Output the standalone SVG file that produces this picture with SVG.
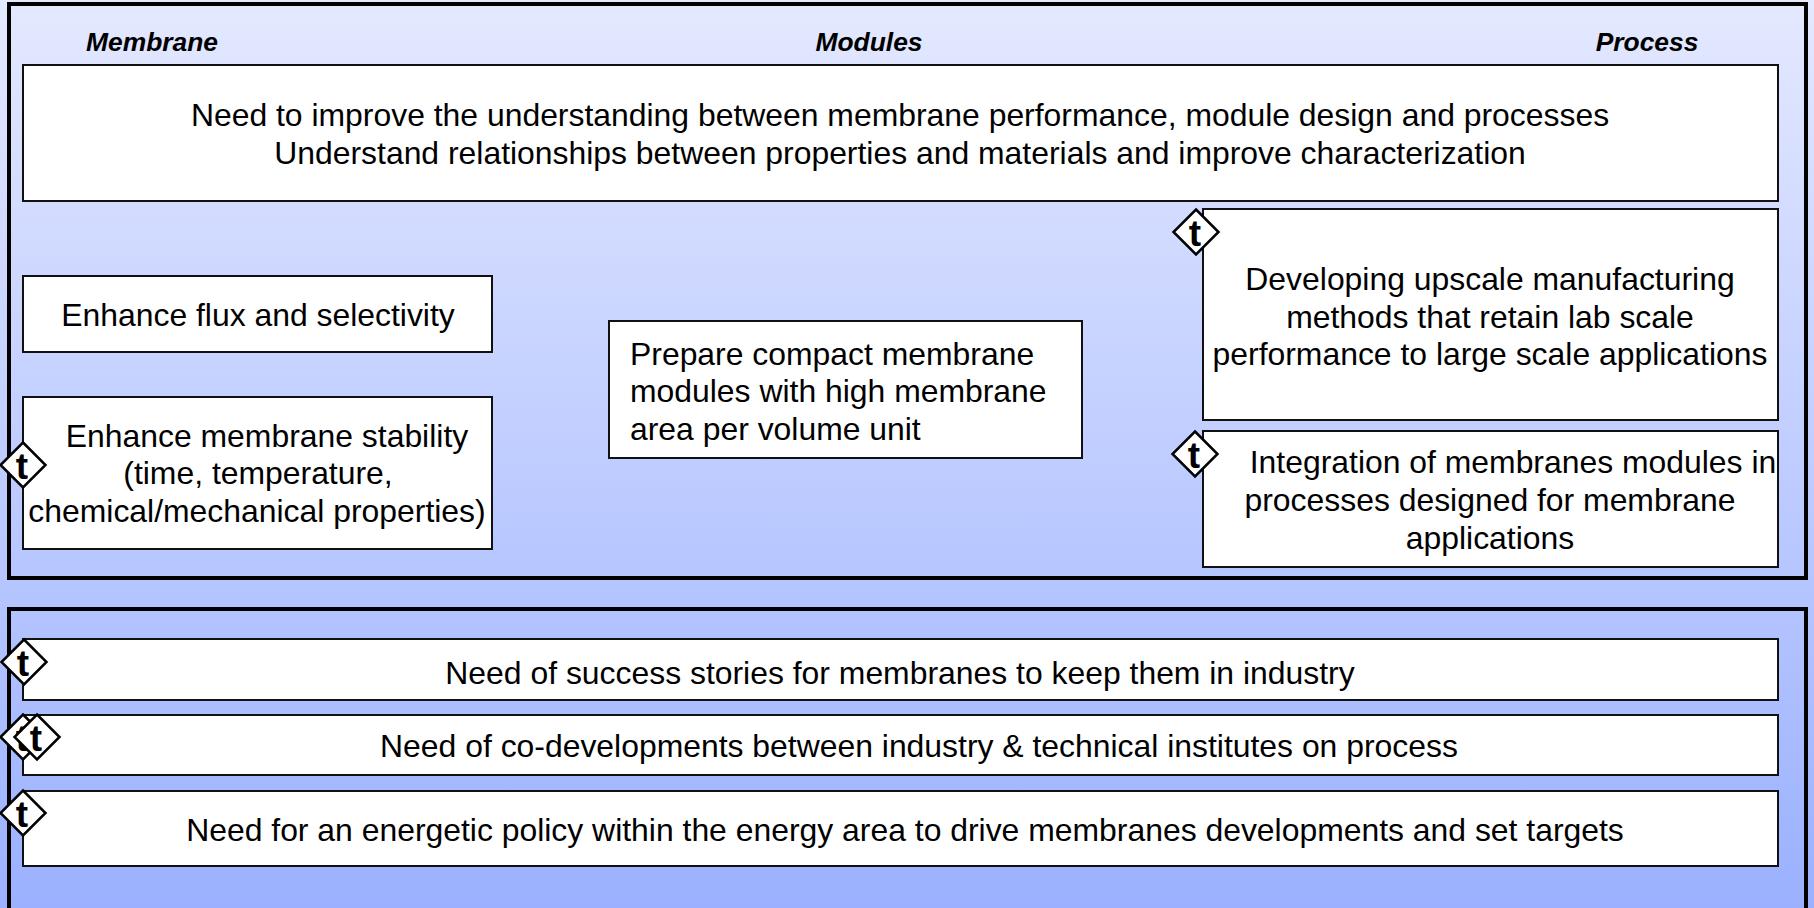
<svg xmlns="http://www.w3.org/2000/svg" width="1814" height="908" viewBox="0 0 1814 908">
<style>
text{font-family:"Liberation Sans",Arial,sans-serif;fill:#000}
.b{fill:#fff;stroke:#111;stroke-width:2}
.f{fill:none;stroke:#000;stroke-width:4}
.l{font-size:31.9px;text-anchor:middle}
.s{text-anchor:start}
.h{font-size:26.4px;font-weight:bold;font-style:italic;text-anchor:middle}
.d{fill:#fff;stroke:#000;stroke-width:2.5}
.t{font-size:37px;font-weight:bold;text-anchor:middle}
</style>
<defs>
<linearGradient id="bg" x1="0" y1="0" x2="0" y2="1"><stop offset="0" stop-color="#e4e9ff"/><stop offset="1" stop-color="#9bb1ff"/></linearGradient>
<g id="m"><path class="d" d="M0-22.500L22.500 0L0 22.500L-22.500 0Z"/><text class="t" x="-1" y="13.500">t</text></g>
</defs>
<rect width="1814" height="908" fill="url(#bg)"/>
<g id="frames"><rect class="f" x="9" y="4" width="1797" height="574"/><rect class="f" x="9" y="609" width="1797" height="310"/></g>
<g id="headers"><text class="h" x="152" y="51">Membrane</text><text class="h" x="869" y="51">Modules</text><text class="h" x="1647" y="51">Process</text></g>
<g id="connectors"/>
<g id="n-need"><rect class="b" x="23" y="65" width="1755" height="136"/><text class="l" x="900" y="126">Need to improve the understanding between membrane performance, module design and processes</text><text class="l" x="900" y="164">Understand relationships between properties and materials and improve characterization</text></g>
<g id="n-flux"><rect class="b" x="23" y="276" width="469" height="76"/><text class="l" x="258" y="326">Enhance flux and selectivity</text></g>
<g id="n-stab"><rect class="b" x="23" y="397" width="469" height="152"/><text class="l" x="267" y="447">Enhance membrane stability</text><text class="l" x="258" y="484">(time, temperature,</text><text class="l" x="257" y="522">chemical/mechanical properties)</text></g>
<g id="n-prep"><rect class="b" x="609" y="321" width="473" height="137"/><text class="l s" x="630" y="365">Prepare compact membrane</text><text class="l s" x="630" y="402">modules with high membrane</text><text class="l s" x="630" y="440">area per volume unit</text></g>
<g id="n-dev"><rect class="b" x="1203" y="209" width="575" height="211"/><text class="l" x="1490" y="290">Developing upscale manufacturing</text><text class="l" x="1490" y="328">methods that retain lab scale</text><text class="l" x="1490" y="365">performance to large scale applications</text></g>
<g id="n-int"><rect class="b" x="1203" y="431" width="575" height="136"/><text class="l" x="1513" y="473">Integration of membranes modules in</text><text class="l" x="1490" y="511">processes designed for membrane</text><text class="l" x="1490" y="549">applications</text></g>
<g id="n-s1"><rect class="b" x="23" y="639" width="1755" height="61"/><text class="l" x="900" y="684">Need of success stories for membranes to keep them in industry</text></g>
<g id="n-s2"><rect class="b" x="23" y="715" width="1755" height="60"/><text class="l" x="919" y="757">Need of co-developments between industry &amp; technical institutes on process</text></g>
<g id="n-s3"><rect class="b" x="23" y="791" width="1755" height="75"/><text class="l" x="905" y="841">Need for an energetic policy within the energy area to drive membranes developments and set targets</text></g>
<g id="markers"><use href="#m" x="1196" y="232"/><use href="#m" x="1195" y="454"/><use href="#m" x="23" y="465"/><use href="#m" x="24" y="662"/><use href="#m" x="23" y="737"/><use href="#m" x="37" y="737"/><use href="#m" x="23" y="813"/></g>
</svg>
